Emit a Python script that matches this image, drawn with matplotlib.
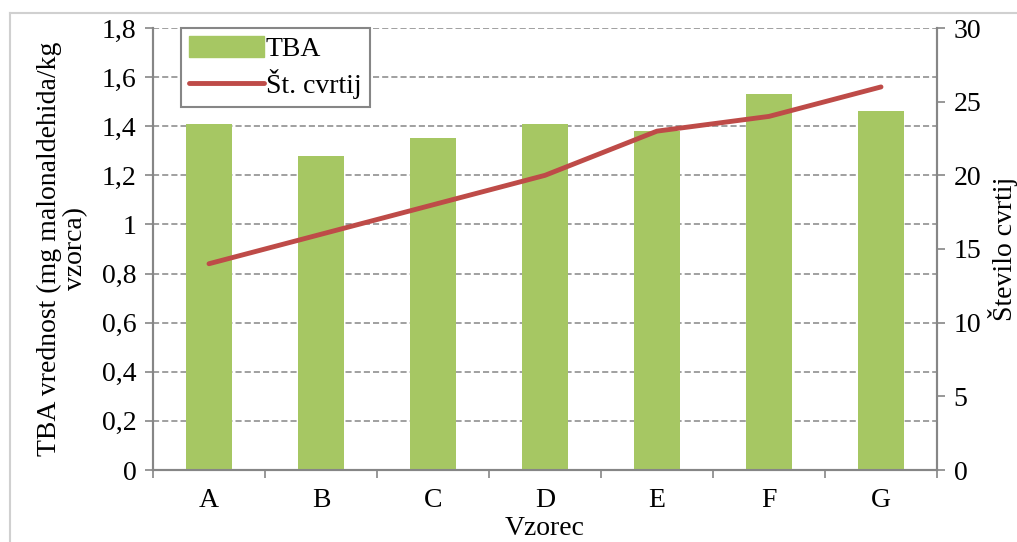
import numpy as np
import matplotlib
matplotlib.use('Agg')
import matplotlib.pyplot as plt
from matplotlib.lines import Line2D

plt.rcParams['font.family'] = ['Liberation Serif', 'DejaVu Serif']

# TBA and number of fried batches per sample
vzorci = ['A', 'B', 'C', 'D', 'E', 'F', 'G']
tba = [1.41, 1.28, 1.35, 1.41, 1.38, 1.53, 1.46]
st_cvrtij = [14, 16, 18, 20, 23, 24, 26]

GREEN = '#a6c763'
RED = '#be4b48'
GRAY = '#868686'
FS = 20

fig = plt.figure(figsize=(10.17, 5.42), dpi=100)
ax = fig.add_axes([153/1017, 1-470/542, (937-153)/1017, (470-28)/542])
ax2 = ax.twinx()

x = np.arange(len(vzorci))
ax.bar(x, tba, width=0.41, color=GREEN, zorder=3)
ax2.plot(x, st_cvrtij, color=RED, lw=3.5, solid_capstyle='round', zorder=4)

ax.set_xlim(-0.5, len(vzorci) - 0.5)
ax.set_ylim(0, 1.8)
ax2.set_ylim(0, 30)
yt = np.round(np.arange(0, 1.81, 0.2), 1)
ax.set_yticks(yt)
ax.set_yticklabels([('%g' % v).replace('.', ',') for v in yt])
ax2.set_yticks(np.arange(0, 31, 5))

ax.set_xticks(x)
ax.set_xticklabels(vzorci)
ax.set_xticks(np.arange(-0.5, len(vzorci), 1), minor=True)
ax.tick_params(axis='x', which='major', length=0, pad=13, labelsize=FS)
ax.tick_params(axis='x', which='minor', length=6, color=GRAY, width=1.2)
ax.tick_params(axis='y', length=6, color=GRAY, width=1.2, labelsize=FS, pad=6)
ax2.tick_params(axis='y', length=6, color=GRAY, width=1.2, labelsize=FS, pad=6)

ax.yaxis.grid(True, linestyle=(0, (4, 2)), color=GRAY, lw=1.1, zorder=0)
ax.set_axisbelow(True)

for a in (ax, ax2):
    a.spines['top'].set_visible(False)
    for s in ('left', 'right', 'bottom'):
        a.spines[s].set_color(GRAY)
        a.spines[s].set_linewidth(1.5)

ax.set_xlabel('Vzorec', fontsize=FS, labelpad=2)
ax.set_ylabel('TBA vrednost (mg malonaldehida/kg\nvzorca)', fontsize=FS, linespacing=1.05, labelpad=10)
ax2.set_ylabel('Število cvrtij', fontsize=FS, labelpad=5)

handles = [plt.Rectangle((0, 0), 1, 1, color=GREEN),
           Line2D([], [], color=RED, lw=3.5, solid_capstyle='round')]
leg = ax2.legend(handles, ['TBA', 'Št. cvrtij'], loc='upper left',
                 bbox_to_anchor=(28/784, 1.0), fontsize=FS, fancybox=False,
                 handlelength=2.7, handleheight=0.75, handletextpad=0.05,
                 borderpad=0.3, labelspacing=0.25, borderaxespad=0, framealpha=1)
leg.get_frame().set_edgecolor(GRAY)
leg.get_frame().set_linewidth(1.5)

# outer chart border
fig.add_artist(Line2D([10/1017, 10/1017], [0, 1-13/542], color='#d0d0d0', lw=1.5))
fig.add_artist(Line2D([10/1017, 1], [1-13/542, 1-13/542], color='#d0d0d0', lw=1.5))

fig.savefig('out.png', dpi=100)
